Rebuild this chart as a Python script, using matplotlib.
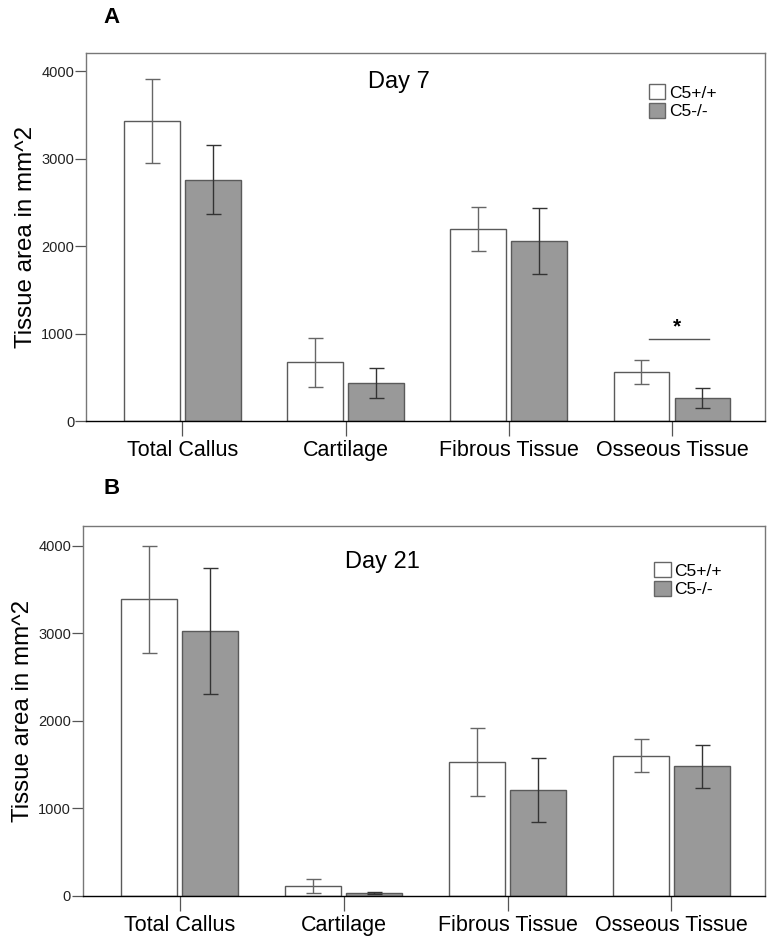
import matplotlib
matplotlib.use("Agg")
import matplotlib.pyplot as plt
from matplotlib.patches import Patch
import numpy as np

plt.rcParams['font.family'] = ['Liberation Sans', 'DejaVu Sans']

# data (mm^2)
categories = ["Total Callus", "Cartilage", "Fibrous Tissue", "Osseous Tissue"]
groups = ["C5+/+", "C5-/-"]

day7_wt = [3435, 672, 2197, 557]
day7_wt_err = [480, 280, 250, 137]
day7_ko = [2760, 435, 2060, 267]
day7_ko_err = [392, 174, 374, 116]

day21_wt = [3390, 114, 1528, 1600]
day21_wt_err = [612, 84, 387, 190]
day21_ko = [3025, 30, 1211, 1482]
day21_ko_err = [718, 12, 362, 244]

yticks = [0, 1000, 2000, 3000, 4000]
sig_cat = 3        # Osseous Tissue, day 7
sig_y = 935

panels = [
    ("A", "Day 7", day7_wt, day7_wt_err, day7_ko, day7_ko_err, 4211),
    ("B", "Day 21", day21_wt, day21_wt_err, day21_ko, day21_ko_err, 4229),
]
axes_pos = [[0.111, 0.554, 0.876, 0.390], [0.107, 0.051, 0.880, 0.392]]
title_pos = [(0.461, 0.922), (0.439, 0.903)]
legend_pos = [(0.829, 0.915), (0.838, 0.902)]
letter_pos = [(0.144, 0.981), (0.144, 0.482)]

fig = plt.figure(figsize=(7.75, 9.44), dpi=100)
x = np.arange(len(categories))
w = 0.34
off = 0.187
edge = '#5a5a5a'

for i, (letter, day, wt, wt_err, ko, ko_err, ytop) in enumerate(panels):
    ax = fig.add_axes(axes_pos[i])
    ax.bar(x - off, wt, w, color='white', edgecolor=edge, linewidth=1.0, zorder=2)
    ax.bar(x + off, ko, w, color='#999999', edgecolor=edge, linewidth=1.0, zorder=2)
    ax.errorbar(x - off, wt, yerr=wt_err, fmt='none', ecolor='#666666',
                elinewidth=1.0, capsize=5.4, capthick=1.0, zorder=3)
    ax.errorbar(x + off, ko, yerr=ko_err, fmt='none', ecolor='#333333',
                elinewidth=1.0, capsize=5.4, capthick=1.0, zorder=3)

    ax.set_xlim(-0.59, 3.57)
    ax.set_ylim(0, ytop)
    ax.set_yticks(yticks)
    ax.set_xticks(x)
    ax.set_xticklabels(categories, fontsize=15.5)
    ax.tick_params(axis='y', direction='out', length=8, width=0.9, pad=0.5,
                   labelsize=10.5, colors='#555555', labelcolor='#222222')
    ax.tick_params(axis='x', direction='out', length=10.5, width=0.9, pad=3,
                   colors='#555555', labelcolor='black')
    for s in ['top', 'right', 'left']:
        ax.spines[s].set_color('#777777')
        ax.spines[s].set_linewidth(1.0)
    ax.spines['bottom'].set_color('black')
    ax.spines['bottom'].set_linewidth(1.0)

    ax.set_ylabel("Tissue area in mm^2", fontsize=17.4, labelpad=3)
    ax.text(title_pos[i][0], title_pos[i][1], day, transform=ax.transAxes,
            ha='center', va='center', fontsize=17)

    handles = [Patch(facecolor='white', edgecolor='#666666', linewidth=1.0),
               Patch(facecolor='#999999', edgecolor='#666666', linewidth=1.0)]
    ax.legend(handles, groups, loc='upper left', bbox_to_anchor=legend_pos[i],
              frameon=False, fontsize=12.5, handlelength=0.95, handleheight=0.95,
              handletextpad=0.2, labelspacing=0.12, borderpad=0, borderaxespad=0)

    fig.text(letter_pos[i][0], letter_pos[i][1], letter, fontsize=16,
             fontweight='bold', ha='center', va='center')

    if i == 0:
        # significance marker over Osseous Tissue
        ax.plot([sig_cat - off + 0.045, sig_cat + off + 0.04], [sig_y, sig_y],
                color='#555555', linewidth=1.0)
        ax.text(sig_cat + 0.03, sig_y + 30, "*", ha='center', va='bottom',
                fontsize=15, fontweight='bold')

fig.savefig("out.png", dpi=100)
